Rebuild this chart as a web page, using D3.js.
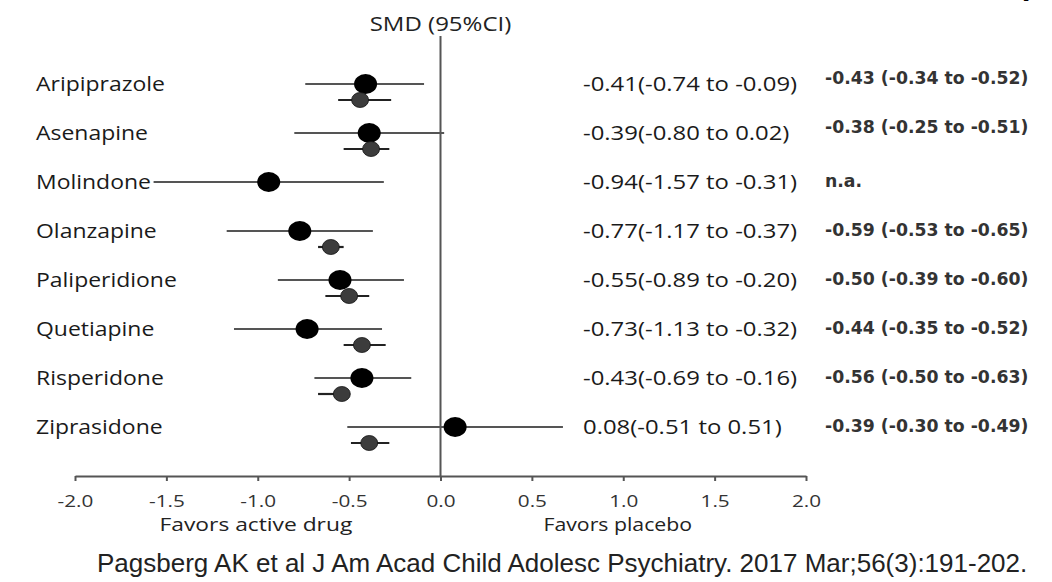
<!DOCTYPE html>
<html>
<head>
<meta charset="utf-8">
<script src="https://cdn.jsdelivr.net/npm/d3@7"></script>
<style>
  html, body { margin: 0; padding: 0; background: #fff; }
  svg { display: block; }
</style>
</head>
<body>
<svg id="chart" width="1052" height="582"></svg>
<script>
// ---- data ----
const drugs = ["Aripiprazole", "Asenapine", "Molindone", "Olanzapine", "Paliperidione", "Quetiapine", "Risperidone", "Ziprasidone"];
// youth estimates (large dots)
const smd   = [-0.41, -0.39, -0.94, -0.77, -0.55, -0.73, -0.43, 0.08];
const lower = [-0.74, -0.80, -1.57, -1.17, -0.89, -1.13, -0.69, -0.51];
const upper = [-0.09,  0.02, -0.31, -0.37, -0.20, -0.32, -0.16,  0.67];
const smdText = ["-0.41(-0.74 to -0.09)", "-0.39(-0.80 to 0.02)", "-0.94(-1.57 to -0.31)", "-0.77(-1.17 to -0.37)",
                 "-0.55(-0.89 to -0.20)", "-0.73(-1.13 to -0.32)", "-0.43(-0.69 to -0.16)", "0.08(-0.51 to 0.51)"];
// adult estimates (small dots)
const adultSmd   = [-0.44, -0.38, null, -0.60, -0.50, -0.43, -0.54, -0.39];
const adultLower = [-0.56, -0.53, null, -0.67, -0.63, -0.53, -0.67, -0.49];
const adultUpper = [-0.27, -0.28, null, -0.53, -0.39, -0.30, -0.51, -0.28];
const adultText = ["-0.43 (-0.34 to -0.52)", "-0.38 (-0.25 to -0.51)", "n.a.", "-0.59 (-0.53 to -0.65)",
                   "-0.50 (-0.39 to -0.60)", "-0.44 (-0.35 to -0.52)", "-0.56 (-0.50 to -0.63)", "-0.39 (-0.30 to -0.49)"];
const tickValues = [-2, -1.5, -1, -0.5, 0, 0.5, 1, 1.5, 2];
const tickLabels = ["-2.0", "-1.5", "-1.0", "-0.5", "0.0", "0.5", "1.0", "1.5", "2.0"];
const headerText = "SMD (95%CI)";
const leftNote = "Favors active drug";
const rightNote = "Favors placebo";
const citation = "Pagsberg AK et al J Am Acad Child Adolesc Psychiatry. 2017 Mar;56(3):191-202.";

// ---- layout ----
const svg = d3.select("#chart");
const x = d3.scaleLinear().domain([-2, 2]).range([75, 806]);
const y = d3.scalePoint().domain(drugs).range([84, 427]);
const axisY = 476;
const subOff = 16;
const FONT = "'Open Sans', sans-serif";

function stretchedText(g, xPos, yPos, txt, anchor, sx) {
  return g.append("text")
    .attr("transform", `translate(${xPos},${yPos}) scale(${sx},1)`)
    .attr("text-anchor", anchor || "start")
    .text(txt);
}

// cut-off title remnants at the very top
svg.append("text").attr("x", 448).attr("y", -5).attr("font-family", "DejaVu Sans").attr("font-weight", "bold")
  .attr("font-size", 30).attr("text-anchor", "middle").attr("fill", "#000").text("[");
svg.append("text").attr("x", 1028).attr("y", -3).attr("font-family", "DejaVu Sans").attr("font-weight", "bold")
  .attr("font-size", 30).attr("text-anchor", "middle").attr("fill", "#000").text(")");

// header
const hdr = svg.append("g").attr("font-family", FONT).attr("font-size", 20).attr("fill", "#222");
stretchedText(hdr, x(0), 31, headerText, "middle", 1.2);

// zero line
svg.append("line")
  .attr("x1", x(0)).attr("x2", x(0)).attr("y1", 36).attr("y2", axisY)
  .attr("stroke", "#555").attr("stroke-width", 2);

// axis
const axis = svg.append("g")
  .attr("transform", `translate(0,${axisY})`)
  .call(d3.axisBottom(x).tickValues(tickValues).tickFormat((d, i) => tickLabels[i]).tickSize(5).tickSizeOuter(0));
axis.select(".domain").attr("stroke", "#555").attr("stroke-width", 2);
axis.selectAll(".tick line").attr("stroke", "#555").attr("stroke-width", 2);
axis.selectAll(".tick text")
  .attr("font-family", FONT).attr("font-size", 17).attr("fill", "#333")
  .attr("y", 0).attr("dy", 0)
  .attr("transform", `translate(0,31) scale(1.22,1)`);

// favors labels
const fav = svg.append("g").attr("font-family", FONT).attr("font-size", 19).attr("fill", "#222");
stretchedText(fav, x(-1.01), 531, leftNote, "middle", 1.2);
stretchedText(fav, x(0.97), 531, rightNote, "middle", 1.12);

// drug labels
const lab = svg.append("g").attr("font-family", FONT).attr("font-size", 20.5).attr("fill", "#1a1a1a");
drugs.forEach(d => stretchedText(lab, 36, y(d) + 7, d, "start", 1.12));

// youth CI lines
const rows = drugs.map((d, i) => ({ d, i }));
svg.append("g").selectAll("line").data(rows).join("line")
  .attr("x1", r => x(lower[r.i])).attr("x2", r => x(upper[r.i]))
  .attr("y1", r => y(r.d)).attr("y2", r => y(r.d))
  .attr("stroke", "#555").attr("stroke-width", 1.8);

// adult CI lines
const adultRows = rows.filter(r => adultSmd[r.i] !== null);
svg.append("g").selectAll("line").data(adultRows).join("line")
  .attr("x1", r => x(adultLower[r.i])).attr("x2", r => x(adultUpper[r.i]))
  .attr("y1", r => y(r.d) + subOff).attr("y2", r => y(r.d) + subOff)
  .attr("stroke", "#222").attr("stroke-width", 2.2);

// dots
svg.append("g").selectAll("ellipse").data(rows).join("ellipse")
  .attr("cx", r => x(smd[r.i])).attr("cy", r => y(r.d))
  .attr("rx", 11.5).attr("ry", 10)
  .attr("fill", "#000");

svg.append("g").selectAll("ellipse").data(adultRows).join("ellipse")
  .attr("cx", r => x(adultSmd[r.i])).attr("cy", r => y(r.d) + subOff)
  .attr("rx", 8.5).attr("ry", 7.5)
  .attr("fill", "#3c3c3c").attr("stroke", "#111").attr("stroke-width", 0.8);

// estimate texts
const col1 = svg.append("g").attr("font-family", FONT).attr("font-size", 20.5).attr("fill", "#1a1a1a");
rows.forEach(r => stretchedText(col1, 583, y(r.d) + 7, smdText[r.i], "start", 1.165));

const col2 = svg.append("g").attr("font-family", "'DejaVu Sans', sans-serif").attr("font-weight", "bold")
  .attr("font-size", 17.3).attr("fill", "#333");
rows.forEach(r => col2.append("text").attr("x", 825).attr("y", y(r.d) + (r.i < 2 ? 0 : 5)).text(adultText[r.i]));

// citation
svg.append("text").attr("x", 97).attr("y", 572)
  .attr("font-family", "'Liberation Sans', Arial, sans-serif").attr("font-size", 26).attr("fill", "#222")
  .text(citation);
</script>
</body>
</html>
